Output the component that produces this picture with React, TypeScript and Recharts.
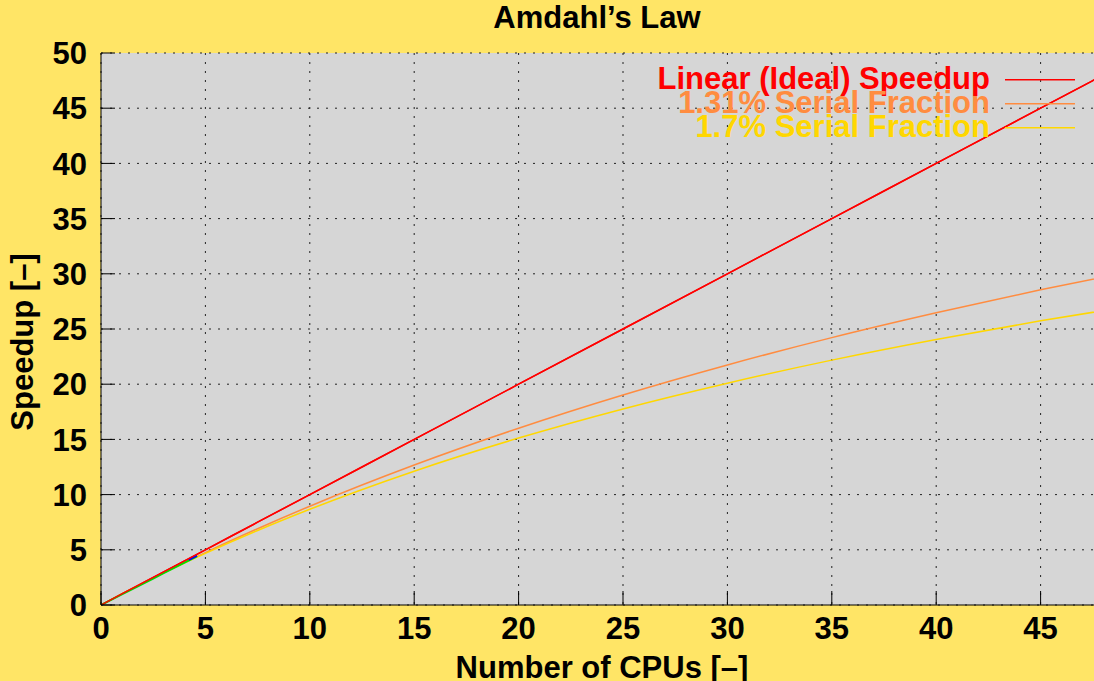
import { LineChart, Line, XAxis, YAxis, CartesianGrid } from "recharts";

// values
const cpus = [0, 1, 2.5, 5, 7.5, 10, 15, 20, 25, 30, 35, 40, 45, 50];
const linearSpeedup = [0, 1, 2.5, 5, 7.5, 10, 15, 20, 25, 30, 35, 40, 45, 50];
const serial131 = [0, 1, 2.45, 4.75, 6.91, 8.95, 12.68, 16.01, 19.02, 21.74, 24.22, 26.47, 28.55, 30.45];
const serial17 = [0, 1, 2.44, 4.68, 6.75, 8.67, 12.12, 15.12, 17.76, 20.09, 22.18, 24.05, 25.74, 27.28];

const measuredCpus = [0, 1, 2, 3, 4, 4.6];
const measuredSpeedup = [0, 0.96, 1.92, 2.88, 3.84, 4.42];
const markerCpus = [4.2, 4.6];
const markerSpeedup = [4.1, 4.48];

const ticks = [0, 5, 10, 15, 20, 25, 30, 35, 40, 45, 50];

const series = [
  { key: "linear", name: "Linear (Ideal) Speedup", color: "#ff0000" },
  { key: "s131", name: "1.31% Serial Fraction", color: "#ff8c40" },
  { key: "s17", name: "1.7% Serial Fraction", color: "#ffd700" },
];

const data = cpus.map((n, i) => ({
  cpus: n,
  linear: linearSpeedup[i],
  s131: serial131[i],
  s17: serial17[i],
}));
const measured = measuredCpus.map((n, i) => ({ cpus: n, value: measuredSpeedup[i] }));
const marker = markerCpus.map((n, i) => ({ cpus: n, value: markerSpeedup[i] }));

const FONT = '"Liberation Sans", Arial, Helvetica, sans-serif';
const FS = 31;
const BG = "#ffe566";

const YTick = (props: any) => {
  const { x, y, payload } = props;
  return (
    <g>
      <line x1={x + 14} x2={x + 28} y1={y} y2={y} stroke="#000" />
      <text x={x} y={y} dy="0.36em" textAnchor="end" fontSize={FS} fontWeight="bold" fill="#000" fontFamily={FONT}>
        {payload.value}
      </text>
    </g>
  );
};

const XTick = (props: any) => {
  const { x, y, payload } = props;
  return (
    <g>
      <line x1={x} x2={x} y1={y - 12} y2={y - 26} stroke="#000" />
      <text x={x} y={y} dy="0.72em" textAnchor="middle" fontSize={FS} fontWeight="bold" fill="#000" fontFamily={FONT}>
        {payload.value}
      </text>
    </g>
  );
};

const TopTick = (props: any) => {
  const { x, y } = props;
  return <line x1={x} x2={x} y1={y} y2={y + 14} stroke="#000" />;
};

export default function App() {
  return (
    <div
      style={{
        position: "fixed",
        left: 0,
        top: 0,
        width: 1094,
        height: 681,
        overflow: "hidden",
        background: BG,
        fontFamily: FONT,
      }}
    >
      <LineChart
        width={1160}
        height={681}
        data={data}
        margin={{ top: 53, right: 15, left: 0, bottom: 0 }}
      >
        <CartesianGrid fill="#d6d6d6" stroke="#222" strokeDasharray="2 7" />
        <XAxis
          dataKey="cpus"
          type="number"
          domain={[0, 50]}
          ticks={ticks}
          height={76}
          tickSize={0}
          tickMargin={12}
          axisLine={{ stroke: "#000" }}
          tick={<XTick />}
          allowDataOverflow
        />
        <XAxis
          xAxisId="top"
          orientation="top"
          dataKey="cpus"
          type="number"
          domain={[0, 50]}
          ticks={ticks}
          height={0}
          tickSize={0}
          tickMargin={0}
          axisLine={{ stroke: "#000" }}
          tick={<TopTick />}
        />
        <YAxis
          type="number"
          domain={[0, 50]}
          ticks={ticks}
          width={101}
          tickSize={0}
          tickMargin={14}
          axisLine={{ stroke: "#000" }}
          tick={<YTick />}
          allowDataOverflow
        />
        {series.map((s) => (
          <Line
            key={s.key}
            dataKey={s.key}
            name={s.name}
            type="monotone"
            stroke={s.color}
            strokeWidth={1.5}
            dot={false}
            isAnimationActive={false}
          />
        ))}
        <Line
          data={measured}
          dataKey="value"
          type="monotone"
          stroke="#00dd00"
          strokeWidth={2}
          dot={false}
          isAnimationActive={false}
        />
        <Line
          data={marker}
          dataKey="value"
          type="linear"
          stroke="#0000ff"
          strokeWidth={2}
          dot={false}
          isAnimationActive={false}
        />
        <Line
          dataKey="linear"
          type="monotone"
          stroke="#ff0000"
          strokeWidth={1.5}
          dot={false}
          isAnimationActive={false}
          legendType="none"
        />
      </LineChart>

      <div
        style={{
          position: "absolute",
          right: 19,
          top: 67,
          display: "flex",
          flexDirection: "column",
          alignItems: "flex-end",
        }}
      >
        {series.map((s) => (
          <div key={s.key} style={{ display: "flex", alignItems: "center", height: 24 }}>
            <span
              style={{
                color: s.color,
                fontSize: FS,
                fontWeight: "bold",
                lineHeight: "24px",
                whiteSpace: "nowrap",
              }}
            >
              {s.name}
            </span>
            <svg width={85} height={24} style={{ display: "block" }}>
              <rect x={15} y={12} width={70} height={1.5} fill={s.color} />
            </svg>
          </div>
        ))}
      </div>

      <svg
        width={1094}
        height={681}
        style={{ position: "absolute", left: 0, top: 0, pointerEvents: "none" }}
      >
        <text x={597} y={28} textAnchor="middle" fontSize={FS} fontWeight="bold" fontFamily={FONT} fill="#000">
          Amdahl’s Law
        </text>
        <text x={602} y={678} textAnchor="middle" fontSize={FS} fontWeight="bold" fontFamily={FONT} fill="#000">
          Number of CPUs [–]
        </text>
        <text
          transform="translate(33,342) rotate(-90)"
          textAnchor="middle"
          fontSize={FS}
          fontWeight="bold"
          fontFamily={FONT}
          fill="#000"
        >
          Speedup [–]
        </text>
      </svg>
    </div>
  );
}
